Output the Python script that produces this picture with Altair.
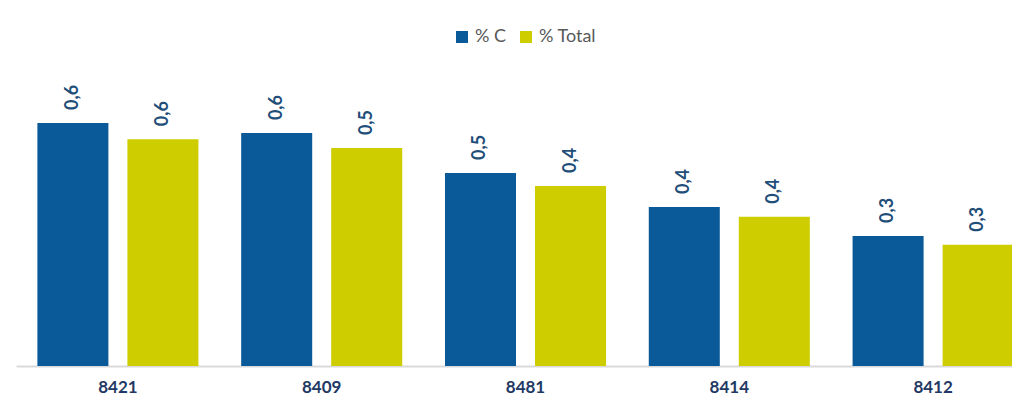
import altair as alt
import pandas as pd

categories = ["8421", "8409", "8481", "8414", "8412"]
series = ["% C", "% Total"]
pct_c = [0.598, 0.573, 0.475, 0.391, 0.320]
pct_total = [0.558, 0.536, 0.443, 0.367, 0.298]

rows = []
for i, c in enumerate(categories):
    rows.append({"cat": c, "series": series[0], "value": pct_c[i]})
    rows.append({"cat": c, "series": series[1], "value": pct_total[i]})
df = pd.DataFrame(rows)

FONT = "Lato"

x = alt.X("cat:N", sort=categories, title=None,
          scale=alt.Scale(range=[0, 1019], paddingInner=0, paddingOuter=0),
          axis=alt.Axis(labelAngle=0, labelFont=FONT, labelFontSize=17, labelFontWeight="bold",
                        labelColor="#1F3864", labelPadding=13, ticks=False,
                        domainColor="#D9D9D9", domainWidth=2, grid=False))
xo = alt.XOffset("series:N", sort=series,
                 scale=alt.Scale(paddingInner=0.211, paddingOuter=0.2375))
y = alt.Y("value:Q", title=None, scale=alt.Scale(domain=[0, 0.738], nice=False, zero=True),
          axis=None)

bars = alt.Chart(df).mark_bar().encode(
    x=x, xOffset=xo, y=y,
    color=alt.Color("series:N", sort=series,
                    scale=alt.Scale(domain=series, range=["#0A5A9A", "#CDCD00"]),
                    legend=alt.Legend(title=None, orient="none", direction="horizontal",
                                      legendX=437, legendY=-38, symbolType="square",
                                      symbolSize=144, symbolStrokeWidth=0,
                                      labelFont=FONT, labelFontSize=18, labelColor="#595959",
                                      columnPadding=10, labelOffset=4)),
)

labels = alt.Chart(df).transform_calculate(
    lbl="replace(format(datum.value, '.1f'), '.', ',')"
).mark_text(angle=270, align="left", baseline="middle", dx=13, font=FONT,
            fontSize=18, fontWeight="bold", color="#1F4E79").encode(
    x=x, xOffset=xo, y=y, text="lbl:N"
)

chart = alt.layer(bars, labels).properties(
    width=996, height=300,
    autosize=alt.AutoSizeParams(type="none"),
    padding={"left": 8, "top": 58, "right": 0, "bottom": 30},
).configure_view(stroke=None)

chart.save("out.html", embed_options={"renderer": "svg", "actions": False})
